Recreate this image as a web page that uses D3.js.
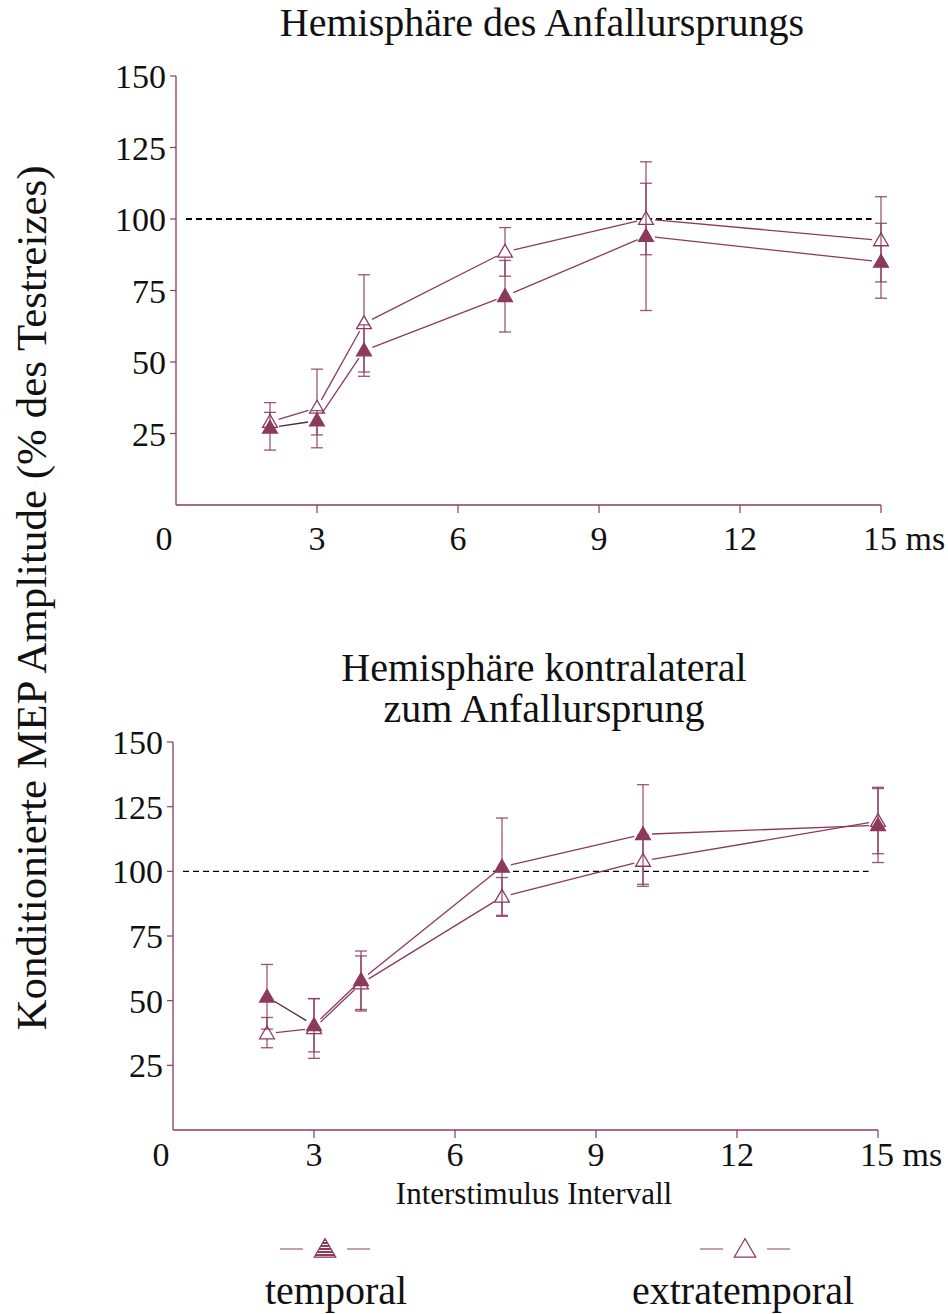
<!DOCTYPE html>
<html>
<head>
<meta charset="UTF-8">
<title>Konditionierte MEP Amplitude</title>
<script src="https://d3js.org/d3.v7.min.js"></script>
<style>
  body { margin: 0; background: #fff; }
  svg { display: block; font-family: "Liberation Serif", "Times New Roman", serif; }
</style>
</head>
<body>
<svg width="948" height="1314"></svg>
<script>
// intervals (ms)
var isi = [2, 3, 4, 7, 10, 15];
var xTicks = [0, 3, 6, 9, 12, 15];
var yTicks = [25, 50, 75, 100, 125, 150];

// top panel: Hemisphäre des Anfallursprungs
var topTempMean = [27, 29.5, 54, 73, 94, 85];
var topTempHi   = [35.8, 33, 63, 85.5, 120, 98.5];
var topTempLo   = [19.2, 24.5, 45, 60.5, 68, 72.3];
var topExtraMean = [29, 34, 63.5, 88.5, 100, 92.5];
var topExtraHi   = [32.4, 47.5, 80.5, 97, 112.5, 107.8];
var topExtraLo   = [25.6, 20, 46.5, 80, 87.5, 78];

// bottom panel: Hemisphäre kontralateral zum Anfallursprung
var botTempMean = [51.5, 40.5, 57.9, 101.7, 114.3, 117.8];
var botTempHi   = [64, 50.8, 69.2, 120.6, 133.5, 132.5];
var botTempLo   = [39, 30.2, 46.6, 83, 95, 103.4];
var botExtraMean = [37.3, 39.3, 56.6, 90.1, 104, 119.4];
var botExtraHi   = [43.5, 50.8, 67.3, 97.6, 114, 132];
var botExtraLo   = [31.8, 27.7, 46, 82.6, 94.2, 106.8];

var col = "#8c3a5c";
var svg = d3.select("svg");

// striped fill used by the legend's filled triangle
var pat = svg.append("defs").append("pattern").attr("id", "stripes")
  .attr("width", 4).attr("height", 3).attr("patternUnits", "userSpaceOnUse");
pat.append("rect").attr("width", 4).attr("height", 3).attr("fill", "#fff");
pat.append("rect").attr("width", 4).attr("height", 2).attr("fill", col);

function triPath(s) {
  return d3.symbol().type(d3.symbolTriangle).size(s)();
}

function panel(opt) {
  var x = d3.scaleLinear().domain([0, 15]).range([opt.x0, opt.x1]);
  var y = d3.scaleLinear().domain([0, 150]).range([opt.y0, opt.y1]);
  var g = svg.append("g");

  // axes lines
  g.append("line").attr("x1", x(0)).attr("x2", x(0)).attr("y1", y(150)).attr("y2", y(0))
    .attr("stroke", col).attr("stroke-width", 1.3);
  g.append("line").attr("x1", x(0)).attr("x2", x(15)).attr("y1", y(0)).attr("y2", y(0))
    .attr("stroke", col).attr("stroke-width", 1.3);

  // y ticks
  yTicks.forEach(function(t) {
    g.append("line").attr("x1", x(0) - 6).attr("x2", x(0)).attr("y1", y(t)).attr("y2", y(t))
      .attr("stroke", col).attr("stroke-width", 1.2);
    g.append("text").attr("x", x(0) - 10).attr("y", y(t) + 12).attr("text-anchor", "end")
      .attr("font-size", 34).attr("fill", "#111").text(t);
  });
  // x ticks
  xTicks.forEach(function(t) {
    if (t > 0) {
      g.append("line").attr("x1", x(t)).attr("x2", x(t)).attr("y1", y(0)).attr("y2", y(0) + 8)
        .attr("stroke", col).attr("stroke-width", 1.2);
    }
    var tx = g.append("text").attr("y", y(0) + opt.labOff).attr("font-size", 34).attr("fill", "#111");
    if (t === 0) tx.attr("x", x(0) - 12).attr("text-anchor", "middle").text("0");
    else if (t === 15) tx.attr("x", x(15) - 18).attr("text-anchor", "start").text("15 ms");
    else tx.attr("x", x(t)).attr("text-anchor", "middle").text(t);
  });

  // reference line at 100%
  g.append("line").attr("x1", x(0) + 10).attr("x2", x(14.8)).attr("y1", y(100)).attr("y2", y(100))
    .attr("stroke", "#000").attr("stroke-width", opt.dashW).attr("stroke-dasharray", "6,4");

  opt.series.forEach(function(s) {
    var pts = isi.map(function(v, i) { return [x(v), y(s.mean[i])]; });
    // connecting segments, stopping short of the markers
    for (var i = 0; i < pts.length - 1; i++) {
      var a = pts[i], b = pts[i + 1];
      var dx = b[0] - a[0], dy = b[1] - a[1], L = Math.sqrt(dx * dx + dy * dy);
      var gap = 9;
      g.append("line")
        .attr("x1", a[0] + dx / L * gap).attr("y1", a[1] + dy / L * gap)
        .attr("x2", b[0] - dx / L * gap).attr("y2", b[1] - dy / L * gap)
        .attr("stroke", (s.filled && i === 0) ? "#4a2a36" : col).attr("stroke-width", 1.3);
    }
    // error bars
    isi.forEach(function(v, i) {
      var cx = x(v);
      g.append("line").attr("x1", cx).attr("x2", cx).attr("y1", y(s.hi[i])).attr("y2", y(s.lo[i]))
        .attr("stroke", col).attr("stroke-width", 1.3).attr("opacity", 0.85);
      [s.hi[i], s.lo[i]].forEach(function(e) {
        g.append("line").attr("x1", cx - 6).attr("x2", cx + 6).attr("y1", y(e)).attr("y2", y(e))
          .attr("stroke", col).attr("stroke-width", 1.3).attr("opacity", 0.85);
      });
    });
    // markers
    g.selectAll(null).data(pts).enter().append("path")
      .attr("d", triPath(95))
      .attr("transform", function(d) { return "translate(" + d[0] + "," + (d[1] + 1) + ")"; })
      .attr("fill", s.filled ? col : "#fff")
      .attr("stroke", col).attr("stroke-width", 1.3);
  });
}

panel({
  x0: 176, x1: 881, y0: 505, y1: 76, dashW: 2, labOff: 45,
  series: [
    { mean: topExtraMean, hi: topExtraHi, lo: topExtraLo, filled: false },
    { mean: topTempMean, hi: topTempHi, lo: topTempLo, filled: true }
  ]
});
panel({
  x0: 173, x1: 878, y0: 1130, y1: 742, dashW: 1.3, labOff: 36,
  series: [
    { mean: botExtraMean, hi: botExtraHi, lo: botExtraLo, filled: false },
    { mean: botTempMean, hi: botTempHi, lo: botTempLo, filled: true }
  ]
});

// titles
svg.append("text").attr("x", 542).attr("y", 36).attr("text-anchor", "middle")
  .attr("font-size", 40).attr("fill", "#111").text("Hemisphäre des Anfallursprungs");
svg.append("text").attr("x", 544).attr("y", 681).attr("text-anchor", "middle")
  .attr("font-size", 40).attr("fill", "#111").text("Hemisphäre kontralateral");
svg.append("text").attr("x", 544).attr("y", 722).attr("text-anchor", "middle")
  .attr("font-size", 40).attr("fill", "#111").text("zum Anfallursprung");

// y axis label
svg.append("text").attr("transform", "translate(46,598) rotate(-90)").attr("text-anchor", "middle")
  .attr("font-size", 43).attr("fill", "#111").text("Konditionierte MEP Amplitude (% des Testreizes)");

// x axis label
svg.append("text").attr("x", 534).attr("y", 1204).attr("text-anchor", "middle")
  .attr("font-size", 31).attr("fill", "#111").text("Interstimulus Intervall");

// legend
var legend = [
  { name: "temporal", cx: 325, tx: 336, filled: true },
  { name: "extratemporal", cx: 745, tx: 743, filled: false }
];
legend.forEach(function(l) {
  var lg = svg.append("g");
  lg.append("line").attr("x1", l.cx - 45).attr("x2", l.cx - 22).attr("y1", 1249).attr("y2", 1249)
    .attr("stroke", col).attr("stroke-width", 1.2).attr("opacity", 0.8);
  lg.append("line").attr("x1", l.cx + 22).attr("x2", l.cx + 45).attr("y1", 1249).attr("y2", 1249)
    .attr("stroke", col).attr("stroke-width", 1.2).attr("opacity", 0.8);
  lg.append("path").attr("d", triPath(200)).attr("transform", "translate(" + l.cx + ",1251)")
    .attr("fill", l.filled ? "url(#stripes)" : "#fff").attr("stroke", col).attr("stroke-width", 1.2);
  lg.append("text").attr("x", l.tx).attr("y", 1304).attr("text-anchor", "middle")
    .attr("font-size", 40).attr("fill", "#111").text(l.name);
});
</script>
</body>
</html>
